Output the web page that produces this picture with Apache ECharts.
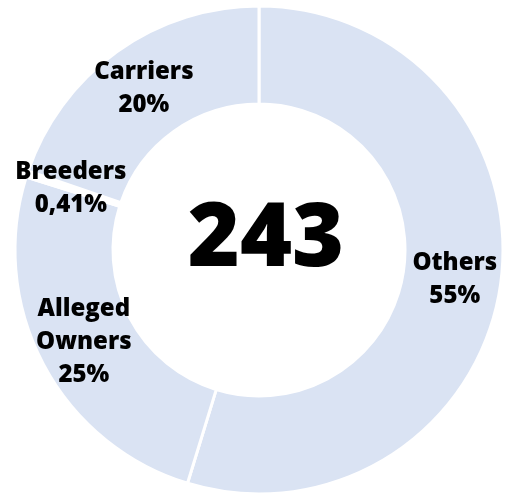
<!DOCTYPE html>
<html>
<head>
<meta charset="utf-8">
<script src="https://cdn.jsdelivr.net/npm/echarts@6/dist/echarts.min.js"></script>
<style>html,body{margin:0;padding:0;background:#fff}#c{width:512px;height:495px}</style>
</head>
<body>
<div id="c"></div>
<script>
const categories = ['Others', 'Alleged\nOwners', 'Breeders', 'Carriers'];
const values = [133, 61, 1, 48];
const percentLabels = ['55%', '25%', '0,41%', '20%'];
const totalLabel = '243';

const chart = echarts.init(document.getElementById('c'));
chart.setOption({
  animation: false,
  series: [{
    type: 'pie',
    center: [259, 250],
    radius: [146, 244],
    startAngle: 90,
    clockwise: true,
    avoidLabelOverlap: false,
    itemStyle: { color: '#dae3f3', borderColor: '#ffffff', borderWidth: 3 },
    label: {
      show: true,
      position: 'inside',
      color: '#000',
      fontFamily: 'Open Sans',
      fontWeight: 800,
      fontSize: 24,
      lineHeight: 33,
      formatter: p => p.name + '\n' + percentLabels[p.dataIndex]
    },
    labelLine: { show: false },
    emphasis: { disabled: true },
    data: categories.map((c, i) => ({
      name: c, value: values[i],
      itemStyle: c === 'Breeders' ? { color: '#ffffff' } : undefined
    }))
  }],
  graphic: [{
    type: 'text',
    style: {
      text: totalLabel,
      x: 266, y: 241,
      textAlign: 'center',
      textVerticalAlign: 'middle',
      fill: '#000',
      font: '800 89px "Open Sans"'
    }
  }]
});
</script>
</body>
</html>
